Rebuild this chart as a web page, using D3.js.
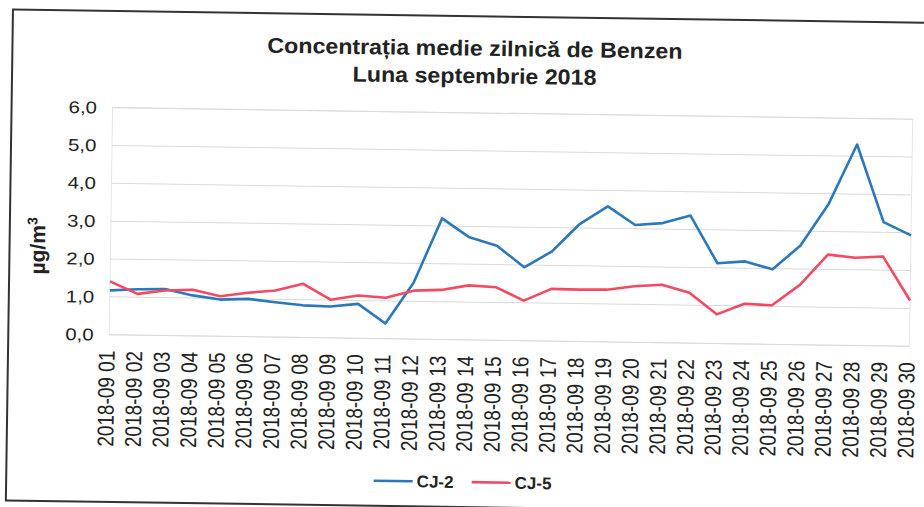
<!DOCTYPE html>
<html lang="ro">
<head>
    <meta charset="UTF-8">
    <script src="https://d3js.org/d3.v7.min.js"></script>
    <title>Benzen CJ</title>
    <style>
        body { margin: 0; background: #fff; }
        text { font-family: "Liberation Sans", Arial, sans-serif; fill: #222; }
    </style>
</head>
<body>
    <div id="chart"></div>
    <script>
        var days = ["2018-09 01","2018-09 02","2018-09 03","2018-09 04","2018-09 05","2018-09 06",
                    "2018-09 07","2018-09 08","2018-09 09","2018-09 10","2018-09 11","2018-09 12",
                    "2018-09 13","2018-09 14","2018-09 15","2018-09 16","2018-09 17","2018-09 18",
                    "2018-09 19","2018-09 20","2018-09 21","2018-09 22","2018-09 23","2018-09 24",
                    "2018-09 25","2018-09 26","2018-09 27","2018-09 28","2018-09 29","2018-09 30"];
        var cj2 = [1.17,1.21,1.23,1.07,0.97,1.00,0.92,0.85,0.83,0.91,0.40,1.49,3.20,2.71,2.50,
                   1.94,2.37,3.11,3.58,3.10,3.16,3.37,2.12,2.18,1.98,2.62,3.73,5.31,3.27,2.93];
        var cj5 = [1.41,1.09,1.19,1.22,1.06,1.16,1.23,1.42,1.01,1.13,1.08,1.28,1.31,1.44,1.40,
                   1.06,1.38,1.37,1.38,1.48,1.53,1.33,0.77,1.06,1.03,1.58,2.39,2.32,2.36,1.21];
        var yTicks = [0, 1, 2, 3, 4, 5, 6];
        var seriesNames = ["CJ-2", "CJ-5"];
        var titleLines = ["Concentrația medie zilnică de Benzen", "Luna septembrie 2018"];

        var width = 924;
        var height = 507;
        var colors = d3.scaleOrdinal().domain(seriesNames).range(["#2b78bb", "#f34a62"]);

        var svg = d3.select('#chart')
                    .append('svg')
                    .attr('width', width)
                    .attr('height', height);

        // the scan is tilted a little, so the whole chart is turned
        var g = svg.append('g')
                   .attr('transform', 'rotate(0.83, 462, 253)');

        g.append('rect')
         .attr('x', 9.5)
         .attr('y', 16)
         .attr('width', 940)
         .attr('height', 491)
         .attr('fill', 'none')
         .attr('stroke', '#333')
         .attr('stroke-width', 2);

        var x = d3.scalePoint().domain(days).range([110.5, 910.7]);
        var y = d3.scaleLinear().domain([0, 6]).range([339.8, 112.7]);

        g.append('rect')
         .attr('x', 110.5)
         .attr('y', y(6))
         .attr('width', 910.7 - 110.5)
         .attr('height', y(0) - y(6))
         .attr('fill', 'none')
         .attr('stroke', '#e6e6e6');

        g.selectAll('.grid')
         .data(yTicks)
         .enter()
         .append('line')
         .attr('class', 'grid')
         .attr('x1', 110.5)
         .attr('x2', 910.7)
         .attr('y1', d => y(d))
         .attr('y2', d => y(d))
         .attr('stroke', '#d9d9d9')
         .attr('stroke-width', 1);

        var yAxis = g.append('g')
                     .attr('transform', 'translate(110.5,0)')
                     .call(d3.axisLeft(y).tickValues(yTicks)
                             .tickFormat(d => d.toFixed(1).replace('.', ','))
                             .tickSize(0).tickPadding(13));
        yAxis.select('.domain').remove();
        yAxis.selectAll('text')
             .attr('font-size', 17)
             .attr('fill', '#222')
             .attr('transform', 'scale(1.2,1)');

        var xAxis = g.append('g')
                     .attr('transform', 'translate(0,' + y(0) + ')')
                     .call(d3.axisBottom(x).tickSize(0));
        xAxis.select('.domain').remove();
        xAxis.selectAll('text')
             .attr('x', 0)
             .attr('y', 0)
             .attr('dy', null)
             .attr('font-size', 19)
             .attr('fill', '#222')
             .attr('text-anchor', 'end')
             .attr('transform', 'translate(5,16) scale(1.2,1) rotate(-90)');

        var line = d3.line()
                     .x((d, i) => x(days[i]))
                     .y(d => y(d));

        var series = [{name: "CJ-2", values: cj2}, {name: "CJ-5", values: cj5}];

        g.selectAll('.series')
         .data(series)
         .enter()
         .append('path')
         .attr('class', 'series')
         .attr('d', d => line(d.values))
         .attr('fill', 'none')
         .attr('stroke', d => colors(d.name))
         .attr('stroke-width', 2.6)
         .attr('stroke-linejoin', 'round');

        g.selectAll('.title')
         .data(titleLines)
         .enter()
         .append('text')
         .attr('class', 'title')
         .attr('text-anchor', 'middle')
         .attr('font-size', 21.5)
         .attr('font-weight', 'bold')
         .attr('transform', (d, i) => 'translate(472,' + (55.5 + i * 27.5) + ') scale(1.08,1)')
         .text(d => d);

        var yTitle = g.append('text')
                      .attr('text-anchor', 'middle')
                      .attr('font-size', 21)
                      .attr('font-weight', 'bold')
                      .attr('transform', 'translate(45,252) rotate(-90)');
        yTitle.append('tspan').text('µg/m');
        yTitle.append('tspan')
              .attr('font-size', 14)
              .attr('dy', -8)
              .text('3');

        var legend = g.selectAll('.legend')
                      .data(seriesNames)
                      .enter()
                      .append('g')
                      .attr('class', 'legend')
                      .attr('transform', (d, i) => 'translate(' + (377 + i * 98) + ',482)');
        legend.append('line')
              .attr('x1', 0)
              .attr('x2', 39)
              .attr('stroke', d => colors(d))
              .attr('stroke-width', 2.6);
        legend.append('text')
              .attr('x', 43)
              .attr('y', 6)
              .attr('font-size', 17)
              .attr('font-weight', 'bold')
              .text(d => d);
    </script>
</body>
</html>
